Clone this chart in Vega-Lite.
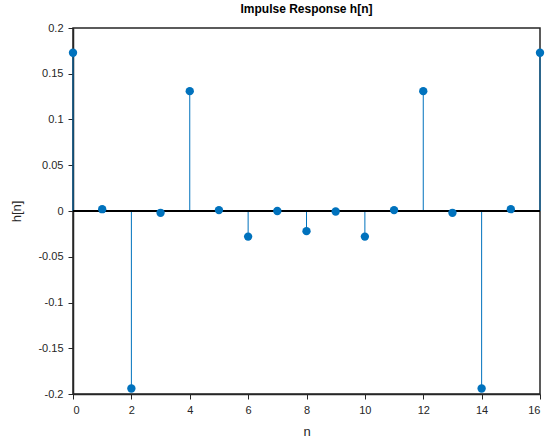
{
  "$schema": "https://vega.github.io/schema/vega-lite/v6.json",
  "width": 467,
  "height": 366,
  "autosize": "none",
  "padding": {"left": 73, "top": 28, "right": 16, "bottom": 47},
  "background": "white",
  "config": {
    "view": {"stroke": "#262626", "strokeWidth": 1.5},
    "axis": {
      "domainColor": "#262626",
      "tickColor": "#262626",
      "domainWidth": 1.5,
      "tickWidth": 1,
      "tickSize": 5,
      "grid": false
    }
  },
  "title": {
    "text": "Impulse Response h[n]",
    "font": "Liberation Sans",
    "fontSize": 12,
    "fontWeight": "bold",
    "color": "#000000",
    "offset": 6
  },
  "data": {
    "values": [
      {"n": 0, "h": 0.173},
      {"n": 1, "h": 0.002},
      {"n": 2, "h": -0.194},
      {"n": 3, "h": -0.002},
      {"n": 4, "h": 0.131},
      {"n": 5, "h": 0.001},
      {"n": 6, "h": -0.028},
      {"n": 7, "h": 0.0},
      {"n": 8, "h": -0.022},
      {"n": 9, "h": -0.0005},
      {"n": 10, "h": -0.028},
      {"n": 11, "h": 0.001},
      {"n": 12, "h": 0.131},
      {"n": 13, "h": -0.002},
      {"n": 14, "h": -0.194},
      {"n": 15, "h": 0.002},
      {"n": 16, "h": 0.173}
    ]
  },
  "layer": [
    {
      "mark": {"type": "rule", "color": "#0072BD", "strokeWidth": 1},
      "encoding": {
        "x": {
          "field": "n", "type": "quantitative",
          "scale": {"domain": [0, 16], "nice": false, "zero": false},
          "axis": {"values": [0, 2, 4, 6, 8, 10, 12, 14, 16], "title": "n", "labelPadding": 5,
            "labelFont": "Liberation Sans", "labelFontSize": 11, "labelColor": "#262626",
            "titleFont": "Liberation Sans", "titleFontSize": 13, "titleFontWeight": "normal", "titleColor": "#262626",
            "titleY": 41, "titleBaseline": "alphabetic"}
        },
        "y": {
          "field": "h", "type": "quantitative",
          "scale": {"domain": [-0.2, 0.2], "nice": false},
          "axis": {"values": [-0.2, -0.15, -0.1, -0.05, 0, 0.05, 0.1, 0.15, 0.2],
            "labelExpr": "replace(format(datum.value, '.2~f'), '\u2212', '-')",
            "labelFont": "Liberation Sans", "labelFontSize": 11, "labelColor": "#262626",
            "titleFont": "Liberation Sans", "titleFontSize": 13, "titleFontWeight": "normal", "titleColor": "#262626",
            "title": "h[n]", "labelPadding": 5, "titleX": -50}
        },
        "y2": {"datum": 0}
      }
    },
    {
      "mark": {"type": "rule", "color": "#000000", "strokeWidth": 1},
      "encoding": {
        "y": {"datum": 0, "type": "quantitative"}
      }
    },
    {
      "mark": {"type": "point", "filled": true, "opacity": 1, "color": "#0072BD", "size": 70},
      "encoding": {
        "x": {"field": "n", "type": "quantitative"},
        "y": {"field": "h", "type": "quantitative"}
      }
    }
  ]
}
